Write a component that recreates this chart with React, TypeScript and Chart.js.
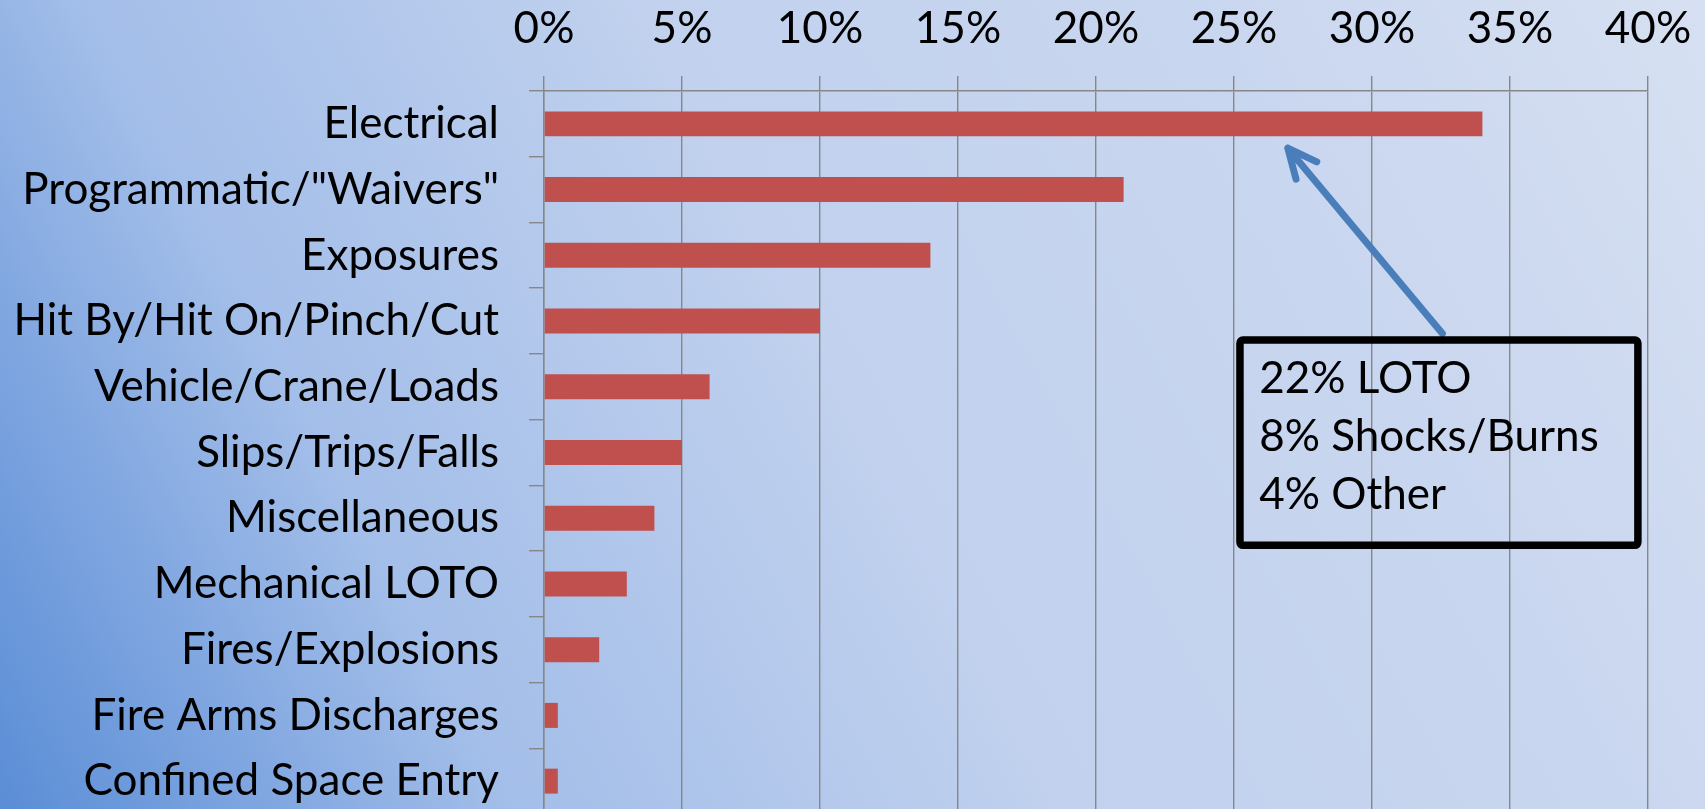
import React, { useEffect, useRef } from "react";
import { Chart, registerables } from "chart.js";

Chart.register(...registerables);

const categories = [
  "Electrical",
  'Programmatic/"Waivers"',
  "Exposures",
  "Hit By/Hit On/Pinch/Cut",
  "Vehicle/Crane/Loads",
  "Slips/Trips/Falls",
  "Miscellaneous",
  "Mechanical LOTO",
  "Fires/Explosions",
  "Fire Arms Discharges",
  "Confined Space Entry",
];
const shares = [34, 21, 14, 10, 6, 5, 4, 3, 2, 0.5, 0.5];
const axisMin = 0;
const axisMax = 40;
const axisStep = 5;
const noteLines = ["22% LOTO", "8% Shocks/Burns", "4% Other"];
// annotation anchors, in data units (x: percent, y: category index)
const arrowTip = { x: 26.95, y: 0.37 };
const arrowTail = { x: 32.55, y: 3.19 };
const noteBox = { x0: 25.08, x1: 39.77, y0: 3.23, y1: 6.47 };

const FONT = "Lato, 'Open Sans', sans-serif";
const FONT_SIZE = 44;
const GRID = "#878787";

const notePlugin = {
  id: "note",
  afterDraw(chart: any) {
    const ctx = chart.ctx;
    const xs = chart.scales.x;
    const ys = chart.scales.y;
    // arrow
    const tx = xs.getPixelForValue(arrowTip.x);
    const ty = ys.getPixelForValue(arrowTip.y);
    const sx = xs.getPixelForValue(arrowTail.x);
    const sy = ys.getPixelForValue(arrowTail.y);
    ctx.save();
    ctx.strokeStyle = "#4a7ebb";
    ctx.lineWidth = 7;
    ctx.lineCap = "round";
    ctx.lineJoin = "round";
    ctx.beginPath();
    ctx.moveTo(sx, sy);
    ctx.lineTo(tx, ty);
    const ang = Math.atan2(sy - ty, sx - tx);
    const len = 32;
    const spread = (25 * Math.PI) / 180;
    ctx.moveTo(tx + len * Math.cos(ang - spread), ty + len * Math.sin(ang - spread));
    ctx.lineTo(tx, ty);
    ctx.lineTo(tx + len * Math.cos(ang + spread), ty + len * Math.sin(ang + spread));
    ctx.stroke();

    // box
    const bx0 = xs.getPixelForValue(noteBox.x0);
    const bx1 = xs.getPixelForValue(noteBox.x1);
    const by0 = ys.getPixelForValue(noteBox.y0);
    const by1 = ys.getPixelForValue(noteBox.y1);
    const bw = 7.5;
    ctx.strokeStyle = "#000";
    ctx.lineWidth = bw;
    ctx.beginPath();
    (ctx as any).roundRect(bx0 + bw / 2, by0 + bw / 2, bx1 - bx0 - bw, by1 - by0 - bw, 3);
    ctx.stroke();

    ctx.fillStyle = "#000";
    ctx.font = `${FONT_SIZE}px ${FONT}`;
    ctx.textAlign = "left";
    ctx.textBaseline = "alphabetic";
    const baseOffsets = [57, 115, 173];
    noteLines.forEach((t, i) => {
      ctx.fillText(t, bx0 + 23, by0 + baseOffsets[i]);
    });
    ctx.restore();
  },
};

export default function App() {
  const ref = useRef<HTMLCanvasElement | null>(null);

  useEffect(() => {
    document.body.style.margin = "0";
    const canvas = ref.current;
    if (!canvas) return;
    const chart = new Chart(canvas, {
      type: "bar",
      data: {
        labels: categories,
        datasets: [
          {
            data: shares,
            backgroundColor: "#c0504d",
            borderWidth: 0,
            categoryPercentage: 1,
            barPercentage: 0.38,
          },
        ],
      },
      options: {
        indexAxis: "y",
        responsive: false,
        animation: false,
        layout: { padding: { left: 0, right: 57, top: 0, bottom: 0 } },
        plugins: { legend: { display: false }, tooltip: { enabled: false } },
        scales: {
          x: {
            position: "top",
            min: axisMin,
            max: axisMax,
            ticks: {
              stepSize: axisStep,
              color: "#000",
              font: { family: FONT, size: FONT_SIZE },
              padding: 21,
              callback: (v: any) => `${v}%`,
              maxRotation: 0,
            },
            grid: { color: GRID, lineWidth: 1.4, tickLength: 15, drawTicks: true },
            border: { display: true, color: GRID, width: 1.4 },
            afterFit: (s: any) => {
              s.height = 91;
              s.paddingLeft = 0;
              s.paddingRight = 0;
            },
          },
          y: {
            ticks: {
              color: "#000",
              font: { family: FONT, size: FONT_SIZE },
              padding: 30,
              autoSkip: false,
            },
            grid: {
              drawOnChartArea: false,
              drawTicks: true,
              tickLength: 15,
              offset: true,
              color: GRID,
              lineWidth: 1.4,
            },
            border: { display: true, color: GRID, width: 1.4 },
            afterFit: (s: any) => {
              s.width = 544;
              s.paddingTop = 0;
              s.paddingBottom = 0;
            },
          },
        },
      },
      plugins: [notePlugin],
    });
    return () => chart.destroy();
  }, []);

  return (
    <div
      style={{
        width: 1705,
        height: 809,
        overflow: "hidden",
        position: "relative",
        background:
          "linear-gradient(62deg, #5a8dd6 0%, #7ba3df 11%, #a3bee9 24%, #c1d1ee 50%, #c9d6ef 76%, #d6e0f2 100%)",
      }}
    >
      <canvas ref={ref} width={1705} height={814} style={{ display: "block" }} />
    </div>
  );
}
